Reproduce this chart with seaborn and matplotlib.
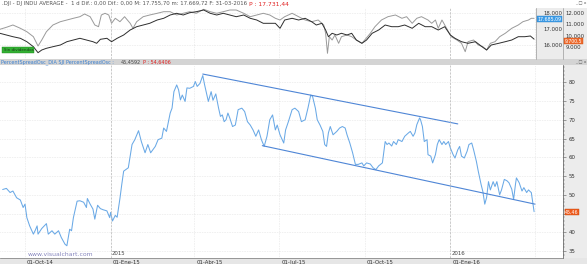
import numpy as np
import pandas as pd
import matplotlib
matplotlib.use("Agg")
import matplotlib.pyplot as plt
from matplotlib.patches import Rectangle
from matplotlib.transforms import ScaledTranslation
import seaborn as sns

sns.set_theme(style="white")
plt.rcParams['font.family'] = ['DejaVu Sans']

# ---------------- data ----------------
BASE = "2014-10-01"
# oscillator (days after 2014-10-01, value)
osc_day = [-24, -20, -16, -13, -9, -5, -2, 0, 2, 5, 9, 11, 13, 14, 18, 23, 25, 29, 32, 36,
           39, 43, 45, 48, 50, 52, 56, 59, 63, 66, 67, 70, 73, 75, 78, 81, 84, 88, 91, 92,
           94, 97, 99, 102, 104, 106, 111, 115, 118, 122, 125, 129, 132, 135, 140, 143, 147, 149, 152, 156,
           158, 160, 163, 165, 167, 169, 172, 174, 177, 181, 183, 185, 188, 191, 193, 197, 200, 202, 205, 208,
           210, 212, 214, 216, 218, 220, 223, 226, 229, 233, 236, 239, 242, 245, 248, 251, 254, 257, 260, 263,
           266, 269, 271, 274, 278, 280, 283, 287, 290, 294, 297, 301, 304, 307, 309, 312, 314, 317, 320, 322,
           324, 326, 328, 331, 335, 338, 341, 344, 346, 349, 352, 355, 358, 362, 364, 367, 371, 374, 377, 380,
           382, 384, 387, 389, 391, 394, 396, 399, 401, 405, 408, 412, 414, 417, 419, 421, 424, 425, 427, 429,
           432, 433, 436, 438, 441, 443, 445, 448, 450, 452, 455, 457, 460, 462, 465, 467, 469, 472, 475, 477,
           480, 482, 485, 487, 490, 492, 494, 496, 498, 500, 503, 505, 507, 510, 512, 515, 518, 520, 523, 525,
           527, 528, 531, 534, 536, 539, 541, 543, 544, 547]
osc_val = [51.4, 51.7, 50.6, 51.0, 49.2, 48.6, 46.6, 47.5, 43.9, 41.7, 39.5, 40.5, 41.7, 39.5, 41.0, 42.3, 39.5, 40.4, 39.5, 40.4,
           38.6, 36.8, 36.4, 40.8, 40.4, 43.9, 48.3, 48.4, 48.0, 46.6, 49.0, 47.5, 46.2, 43.5, 47.2, 46.3, 46.0, 45.7, 43.9, 45.3,
           43.0, 44.5, 44.0, 49.0, 52.8, 56.3, 57.2, 63.4, 64.7, 67.1, 64.2, 61.2, 63.4, 61.2, 62.9, 64.7, 65.1, 67.8, 66.9, 71.8,
           73.1, 77.5, 79.3, 78.0, 75.3, 76.6, 74.9, 78.5, 78.4, 78.9, 80.2, 78.9, 79.7, 81.8, 79.3, 74.9, 77.5, 75.2, 76.9, 73.1,
           70.9, 71.3, 69.5, 70.0, 71.8, 70.5, 68.2, 68.6, 72.7, 73.1, 72.2, 69.5, 68.6, 67.3, 65.6, 67.3, 64.7, 62.9, 65.6, 70.0,
           71.3, 67.3, 68.6, 66.0, 63.8, 67.3, 69.5, 72.7, 73.1, 72.2, 69.5, 70.0, 73.1, 76.6, 76.2, 73.1, 70.0, 68.6, 66.9, 63.4,
           62.9, 66.5, 68.2, 66.0, 66.9, 67.8, 68.2, 67.8, 66.0, 63.8, 61.2, 58.1, 58.1, 58.5, 57.7, 58.5, 58.2, 57.2, 56.7, 57.7,
           58.1, 58.5, 64.2, 63.4, 63.8, 63.0, 64.2, 63.4, 64.7, 64.2, 65.6, 66.5, 66.9, 65.6, 66.5, 68.7, 70.5, 70.0, 68.2, 64.2,
           64.7, 60.7, 60.3, 58.5, 60.7, 63.4, 64.7, 63.4, 64.2, 63.4, 64.2, 62.5, 60.7, 59.8, 62.0, 62.9, 60.3, 59.8, 61.6, 63.4,
           63.8, 62.0, 58.9, 56.3, 52.8, 50.8, 47.5, 49.3, 53.5, 51.3, 53.5, 52.2, 53.5, 50.0, 51.3, 54.1, 53.7, 53.2, 51.5, 48.8,
           52.8, 54.5, 53.2, 51.0, 51.9, 50.6, 51.3, 50.8, 50.6, 45.5]

# channel trend lines (start/end day, start/end value)
upper_day = [191, 465]
upper_val = [82.2, 68.9]
lower_day = [255, 548]
lower_val = [63.1, 47.5]

# upper panel: DJI (grey, left scale)
dji_day = [-27, -20, -13, -5, 2, 9, 14, 18, 23, 30, 38, 45, 52, 59, 64, 70, 75, 79, 82, 86,
           90, 93, 97, 102, 107, 113, 116, 120, 127, 134, 142, 149, 156, 163, 170, 177, 184, 192, 199, 206,
           213, 220, 227, 235, 242, 249, 256, 263, 269, 274, 279, 287, 294, 301, 308, 315, 321, 323, 325, 327,
           330, 333, 337, 340, 346, 351, 356, 362, 365, 371, 376, 383, 390, 398, 405, 410, 416, 421, 426, 433,
           437, 441, 444, 448, 451, 455, 458, 464, 469, 473, 476, 482, 487, 492, 496, 500, 505, 510, 516, 523,
           530, 535, 541, 544, 547]
dji_val = [17000, 17125, 17269, 17063, 16850, 16538, 15956, 16331, 16850, 17269, 17475, 17581, 17688, 17788, 17956, 17788, 17269, 17163, 17894, 18000,
           17894, 17375, 17688, 17475, 17788, 17375, 17063, 17475, 17788, 17894, 18000, 18100, 18100, 17894, 18000, 18100, 18000, 18250, 18100, 18000,
           18100, 18206, 18206, 18000, 17788, 17894, 18000, 17894, 17688, 17581, 17788, 18000, 17788, 17581, 17475, 17581, 17269, 16750, 15500, 16538,
           16331, 16644, 16125, 16538, 16644, 16538, 16331, 16125, 16331, 16750, 17163, 17581, 17788, 17894, 17688, 17788, 17375, 17688, 17788, 17581,
           17375, 17581, 17063, 17581, 17269, 16850, 16538, 16331, 16125, 15600, 16225, 16331, 16019, 15913, 15706, 16125, 16225, 16538, 16750, 17063,
           17269, 17475, 17581, 17688, 17685]

# upper panel: second index (dark, right scale)
idx_day = [-27, -20, -13, -5, 2, 9, 14, 18, 23, 30, 38, 45, 52, 59, 66, 73, 77, 81, 88, 93,
           99, 106, 113, 120, 127, 134, 142, 149, 156, 163, 170, 177, 184, 192, 199, 206, 213, 220, 227, 235,
           242, 249, 256, 263, 269, 274, 279, 287, 294, 301, 308, 313, 319, 323, 326, 330, 335, 340, 346, 351,
           356, 362, 367, 373, 380, 387, 394, 401, 408, 416, 423, 430, 437, 444, 451, 457, 462, 469, 476, 484,
           491, 496, 501, 509, 516, 523, 530, 537, 543, 547]
idx_val = [10209, 10061, 9913, 9774, 9478, 9043, 8522, 8757, 8904, 9043, 9191, 9478, 9626, 9774, 9626, 9478, 9339, 9687, 9774, 9478,
           9774, 10061, 10496, 10783, 10930, 11078, 11365, 11513, 11800, 11948, 11800, 12000, 12087, 12235, 11948, 11800, 11948, 11800, 11652, 11800,
           11513, 11365, 11078, 11078, 11078, 10643, 11365, 11513, 11365, 11513, 11217, 10930, 11078, 10496, 9913, 10209, 10061, 10209, 10061, 10209,
           9626, 9339, 9626, 10209, 10496, 10930, 10783, 10783, 10930, 10643, 11078, 10783, 10783, 10496, 10783, 10061, 9774, 9478, 9339, 9478,
           9043, 8757, 9191, 9339, 9478, 9626, 9913, 9913, 9974, 9700]

tick_dates = ["2014-10-01", "2015-01-01", "2015-04-01", "2015-07-01", "2015-10-01", "2016-01-01", "2016-04-01"]
tick_labels = ["01-Oct-14", "01-Ene-15", "01-Abr-15", "01-Jul-15", "01-Oct-15", "01-Ene-16", ""]
year_dates = ["2015-01-01", "2016-01-01"]
year_labels = ["2015", "2016"]
osc_ticks = [35, 40, 45, 50, 55, 60, 65, 70, 75, 80]
dji_ticks = [16000, 17000, 18000]
idx_ticks = [9000, 10000, 11000, 12000]

# ---------------- helpers ----------------
base = pd.Timestamp(BASE)
def to_dates(days):
    return base + pd.to_timedelta(np.asarray(days, dtype=float), unit="D")

osc_df = pd.DataFrame({"date": to_dates(osc_day), "value": osc_val})
dji_df = pd.DataFrame({"date": to_dates(dji_day), "value": dji_val})
idx_df = pd.DataFrame({"date": to_dates(idx_day), "value": idx_val})
up_df = pd.DataFrame({"date": to_dates(upper_day), "value": upper_val})
lo_df = pd.DataFrame({"date": to_dates(lower_day), "value": lower_val})

W, H = 587, 264
fig = plt.figure(figsize=(W / 100, H / 100), dpi=100)
fig.patch.set_facecolor("white")

def px_rect(x0, y0, x1, y1):
    return [x0 / W, 1 - y1 / H, (x1 - x0) / W, (y1 - y0) / H]

def fig_box(x0, y0, x1, y1, fc, ec="none", lw=0.0, z=-10):
    r = Rectangle((x0 / W, 1 - y1 / H), (x1 - x0) / W, (y1 - y0) / H, transform=fig.transFigure,
                  facecolor=fc, edgecolor=ec, lw=lw, zorder=z)
    fig.patches.append(r)

# background pieces
fig_box(536, 8, 587, 60, "#ececec")
fig_box(563, 65, 587, 258, "#ececec")
fig_box(0, 59, 587, 65, "#d4d4d4")
fig_box(0, 258, 587, 264, "#e6e6e6")

FS = 3.9
day_px = 0.9307
xmin = base + pd.Timedelta(days=-25 / day_px)
xmax_main = base + pd.Timedelta(days=(563 - 25) / day_px)
xmax_top = base + pd.Timedelta(days=(536 - 25) / day_px)
tick_dt = pd.to_datetime(tick_dates)

# ---------------- upper panel ----------------
ax_t = fig.add_axes(px_rect(0, 8, 536, 59))
ax_t.set_facecolor("white")
sns.lineplot(data=dji_df, x="date", y="value", ax=ax_t, color="#9a9a9a", lw=0.7)
ax_t2 = ax_t.twinx()
sns.lineplot(data=idx_df, x="date", y="value", ax=ax_t2, color="#2e2e2e", lw=0.7)

ax_t.set_xlim(xmin, xmax_top)
ax_t.set_ylim(18000 - (59 - 13.3) / 0.016, 18000 + (13.3 - 8) / 0.016)
ax_t.set_xticks(tick_dt)
ax_t.set_xticklabels([])
ax_t.tick_params(axis="x", length=0)
ax_t.yaxis.tick_right()
ax_t.set_yticks(dji_ticks)
ax_t.set_yticklabels([f"{v:,.0f}".replace(",", ".") for v in dji_ticks], fontsize=FS, color="#333")
ax_t.tick_params(axis="y", which="both", left=False, right=True, labelleft=False, labelright=True,
                 length=0, pad=5)
ax_t.grid(True, color="#cfcfcf", lw=0.4, ls=(0, (1, 2)))
ax_t.set_xlabel(""); ax_t.set_ylabel("")
for s in ax_t.spines.values():
    s.set_visible(False)

ax_t2.set_ylim(12000 - (59 - 12.7) / 0.0115, 12000 + (12.7 - 8) / 0.0115)
ax_t2.set_yticks(idx_ticks)
ax_t2.set_yticklabels([f"{v:,.0f}".replace(",", ".") for v in idx_ticks], fontsize=FS, color="#333")
ax_t2.tick_params(axis="y", length=0, pad=21.5)
ax_t2.set_xlabel(""); ax_t2.set_ylabel("")
ax_t2.grid(False)
for s in ax_t2.spines.values():
    s.set_visible(False)

# separators in top right
fig.add_artist(plt.Line2D([563 / W, 563 / W], [1 - 59 / H, 1 - 8 / H], transform=fig.transFigure, color="#a8a8a8", lw=0.6))
fig.add_artist(plt.Line2D([536 / W, 536 / W], [1 - 59 / H, 1 - 8 / H], transform=fig.transFigure, color="#a8a8a8", lw=0.6))

# value tags top
fig.text(537.5 / W, 1 - 19 / H, "17.685,09", fontsize=FS - 0.5, color="white", va="center", ha="left",
         bbox=dict(boxstyle="square,pad=0.15", fc="#3c9be6", ec="#2a7fc8", lw=0.3))
fig.text(564.5 / W, 1 - 41 / H, "9.700,5", fontsize=FS - 0.6, color="white", va="center", ha="left",
         bbox=dict(boxstyle="square,pad=0.12", fc="#ee6a2c", ec="#c84c10", lw=0.3))
fig.text(3.5 / W, 1 - 50 / H, "Sin dividendos", fontsize=FS - 1.0, color="#1c3a1c", va="center", ha="left",
         bbox=dict(boxstyle="square,pad=0.3", fc="#33b033", ec="#1d8a1d", lw=0.3))

# title line
t1 = fig.text(2 / W, 1 - 4 / H,
              ".DJI - DJ INDU AVERAGE -  1 d Dif.: 0,00 Dif.: 0,00 M: 17.755,70 m: 17.669,72 F: 31-03-2016",
              fontsize=FS, color="#555", va="center", ha="left")
fig.add_artist(matplotlib.text.Annotation("P : 17.731,44", xy=(1, 0.5), xycoords=t1, xytext=(1.5, 0),
                                          textcoords="offset points", fontsize=FS + 0.4, color="#e02020",
                                          va="center", ha="left"))
fig.text(581 / W, 1 - 3 / H, "_ \u25a1 x", fontsize=FS - 0.8, color="#555", va="center", ha="center")

# indicator header
h1 = fig.text(1 / W, 1 - 62 / H, "PercentSpreadOsc_DIA SJI PercentSpreadOsc :", fontsize=FS - 0.4,
              color="#3a7fd0", va="center", ha="left")
h2 = fig.add_artist(matplotlib.text.Annotation("45,4592", xy=(1, 0.5), xycoords=h1, xytext=(5, 0),
                                               textcoords="offset points", fontsize=FS - 0.4, color="#444",
                                               va="center", ha="left"))
fig.add_artist(matplotlib.text.Annotation("P : 54,6406", xy=(1, 0.5), xycoords=h2, xytext=(1.5, 0),
                                          textcoords="offset points", fontsize=FS - 0.4, color="#e02020",
                                          va="center", ha="left"))
fig.text(581 / W, 1 - 62 / H, "_ \u25a1 x", fontsize=FS - 0.8, color="#555", va="center", ha="center")

# ---------------- main panel ----------------
ax = fig.add_axes(px_rect(0, 65, 563, 258))
ax.set_facecolor("white")
sns.lineplot(data=osc_df, x="date", y="value", ax=ax, color="#6aa9e6", lw=0.75)
sns.lineplot(data=up_df, x="date", y="value", ax=ax, color="#4f86d6", lw=0.8)
sns.lineplot(data=lo_df, x="date", y="value", ax=ax, color="#4f86d6", lw=0.8)
ax.set_xlim(xmin, xmax_main)
ylo, yhi = 35 - 7 / 3.75, 80 + 17.3 / 3.75
ax.set_ylim(ylo, yhi)
ax.set_xlabel(""); ax.set_ylabel("")

last_val = osc_val[-1]
ax.yaxis.tick_right()
ax.set_yticks(osc_ticks)
# the tick hidden under the current-value tag stays unlabeled, as in the original
ax.set_yticklabels(["" if abs(v - last_val) < 2.5 else str(v) for v in osc_ticks], fontsize=FS, color="#333")
ax.set_yticks(np.arange(34, 85, 1), minor=True)
ax.tick_params(axis="y", which="major", length=2.5, width=0.4, pad=1.5, color="#555")
ax.tick_params(axis="y", which="minor", length=1.3, width=0.3, color="#666")
ax.set_xticks(tick_dt)
ax.set_xticklabels(tick_labels, fontsize=FS, color="#333", ha="left")
ax.tick_params(axis="x", length=5, width=0.4, pad=-3.8, color="#555", direction="out")
off = ScaledTranslation(1.5 / 72, 0, fig.dpi_scale_trans)
for lab in ax.get_xticklabels():
    lab.set_transform(lab.get_transform() + off)

ax.grid(True, axis="both", color="#cfcfcf", lw=0.4, ls=(0, (1, 2)))
for s in ["top", "left"]:
    ax.spines[s].set_visible(False)
ax.spines["right"].set_color("#555")
ax.spines["right"].set_linewidth(0.5)
ax.spines["bottom"].set_color("#777")
ax.spines["bottom"].set_linewidth(0.5)

# year separators
for d, lab in zip(pd.to_datetime(year_dates), year_labels):
    ax.axvline(d, color="#b8b8b8", lw=0.5, ls=(0, (3, 2)))
    ax.text(d + pd.Timedelta(days=1), 34.3, lab, fontsize=FS, color="#444", va="center", ha="left")
    ax_t.axvline(d, color="#b8b8b8", lw=0.5, ls=(0, (3, 2)))

# current value tag
ax.text(1.004, (45.46 - ylo) / (yhi - ylo), "45,46",
        transform=ax.transAxes, fontsize=FS - 0.5, color="white", va="center", ha="left",
        bbox=dict(boxstyle="square,pad=0.15", fc="#ee5a1c", ec="#c84c10", lw=0.3), clip_on=False, zorder=10)

fig.text(28 / W, 1 - 254 / H, "www.visualchart.com", fontsize=FS + 0.5, color="#8585bd", va="center", ha="left")

fig.savefig("out.png", dpi=100)
